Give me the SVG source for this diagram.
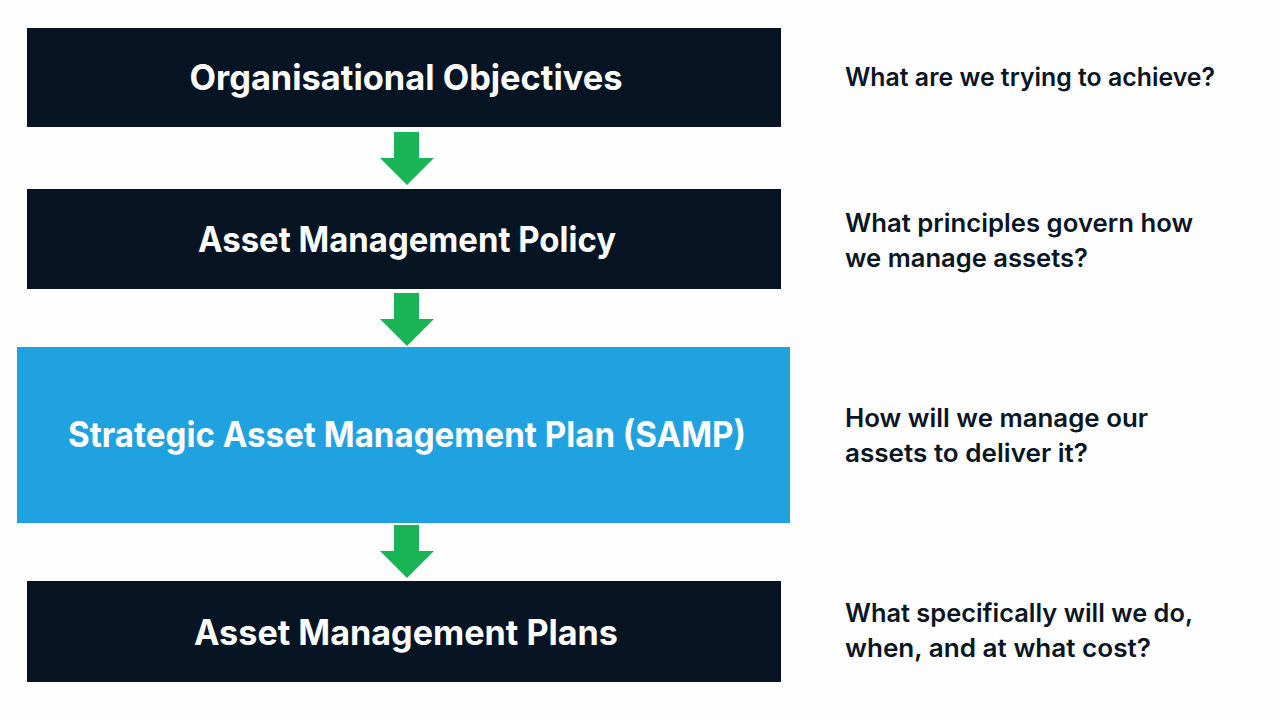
<svg xmlns="http://www.w3.org/2000/svg" width="1280" height="720" viewBox="0 0 1280 720">
<style>
.dark{fill:#061423;}
.blue{fill:#1fa2df;}
.title{font-family:Inter,"Noto Sans","Liberation Sans",sans-serif;font-weight:700;font-size:35px;fill:#ffffff;text-anchor:middle;}
.q{font-family:Inter,"Noto Sans","Liberation Sans",sans-serif;font-weight:600;font-size:25px;fill:#0b1624;}
.arrow{fill:#19b456;}
</style>
<rect width="1280" height="720" fill="#fefefe"/>
<g id="connectors">
<polygon class="arrow" points="394,132 419,132 419,158 434,158 407,185 380,158 394,158"/>
<polygon class="arrow" points="394,293 419,293 419,319 434,319 407,346 380,319 394,319"/>
<polygon class="arrow" points="394,525 419,525 419,551 434,551 407,578 380,551 394,551"/>
</g>
<g id="node-objectives">
<rect class="dark" x="27" y="28" width="754" height="99"/>
<text class="title" x="406" y="90" textLength="433" lengthAdjust="spacingAndGlyphs">Organisational Objectives</text>
</g>
<g id="node-policy">
<rect class="dark" x="27" y="189" width="754" height="100"/>
<text class="title" x="407" y="252" textLength="418" lengthAdjust="spacingAndGlyphs">Asset Management Policy</text>
</g>
<g id="node-samp">
<rect class="blue" x="17" y="347" width="773" height="176"/>
<text class="title" x="407" y="447" textLength="678" lengthAdjust="spacingAndGlyphs">Strategic Asset Management Plan (SAMP)</text>
</g>
<g id="node-plans">
<rect class="dark" x="27" y="581" width="754" height="101"/>
<text class="title" x="406" y="645" textLength="424" lengthAdjust="spacingAndGlyphs">Asset Management Plans</text>
</g>
<g id="questions">
<text class="q" x="845" y="86" textLength="370" lengthAdjust="spacingAndGlyphs">What are we trying to achieve?</text>
<text class="q" x="845" y="232" textLength="348" lengthAdjust="spacingAndGlyphs">What principles govern how</text>
<text class="q" x="845" y="267" textLength="243" lengthAdjust="spacingAndGlyphs">we manage assets?</text>
<text class="q" x="845" y="427" textLength="303" lengthAdjust="spacingAndGlyphs">How will we manage our</text>
<text class="q" x="845" y="462" textLength="243" lengthAdjust="spacingAndGlyphs">assets to deliver it?</text>
<text class="q" x="845" y="622" textLength="348" lengthAdjust="spacingAndGlyphs">What specifically will we do,</text>
<text class="q" x="845" y="657" textLength="306" lengthAdjust="spacingAndGlyphs">when, and at what cost?</text>
</g>
</svg>
